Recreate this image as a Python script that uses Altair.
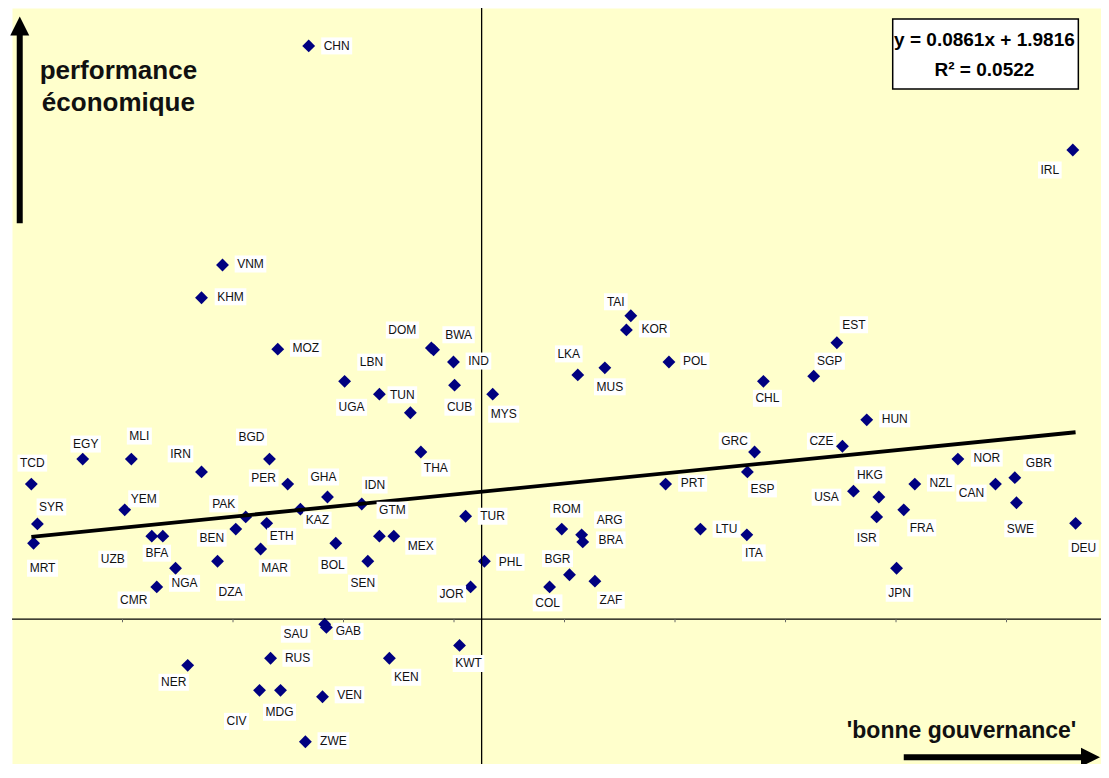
import altair as alt
import pandas as pd

# ---------------- data ----------------
codes = ["CHN", "IRL", "VNM", "KHM", "MOZ", "DOM", "BWA", "IND", "CUB", "UGA",
         "LBN", "TUN", "MYS", "THA", "TAI", "KOR", "LKA", "MUS", "POL", "CHL",
         "EST", "SGP", "HUN", "CZE", "GRC", "ESP", "PRT", "NOR", "GBR", "CAN",
         "SWE", "DEU", "HKG", "USA", "NZL", "ISR", "FRA", "LTU", "ITA", "JPN",
         "ROM", "ARG", "BRA", "TUR", "PHL", "BGR", "COL", "ZAF", "JOR", "KWT",
         "TCD", "EGY", "MLI", "IRN", "BGD", "PER", "GHA", "IDN", "SYR", "YEM",
         "PAK", "KAZ", "GTM", "MEX", "MRT", "UZB", "BFA", "BEN", "ETH", "MAR",
         "BOL", "SEN", "NGA", "DZA", "CMR", "SAU", "GAB", "NER", "RUS", "KEN",
         "CIV", "MDG", "VEN", "ZWE"]

gouvernance = [-3.13, 10.70, -4.69, -5.07, -3.69, -0.91, -0.87, -0.51, -0.49, -2.48,
               -1.85, -1.29, 0.20, -1.10, 2.70, 2.62, 1.74, 2.23, 3.39, 5.10,
               6.43, 6.01, 6.97, 6.53, 4.94, 4.81, 3.33, 8.62, 9.65, 9.30,
               9.68, 10.75, 7.19, 6.73, 7.84, 7.15, 7.64, 3.96, 4.80, 7.51,
               1.45, 1.81, 1.83, -0.29, 0.05, 1.59, 1.23, 2.05, -0.20, -0.40,
               -8.15, -7.22, -6.34, -5.07, -3.84, -3.51, -2.79, -2.17, -8.04, -6.46,
               -4.27, -3.28, -1.85, -1.59, -8.11, -5.97, -5.77, -4.45, -3.89, -4.00,
               -2.64, -2.06, -5.54, -4.78, -5.88, -2.84, -2.81, -5.32, -3.82, -1.67,
               -4.02, -3.64, -2.88, -3.19]

performance = [8.92, 7.30, 5.51, 5.00, 4.20, 4.22, 4.19, 4.00, 3.64, 3.70,
               3.50, 3.21, 3.50, 2.60, 4.72, 4.50, 3.80, 3.91, 4.00, 3.70,
               4.30, 3.78, 3.10, 2.69, 2.60, 2.29, 2.10, 2.49, 2.20, 2.10,
               1.81, 1.49, 1.90, 1.99, 2.10, 1.59, 1.70, 1.40, 1.31, 0.79,
               1.40, 1.31, 1.20, 1.60, 0.90, 0.69, 0.50, 0.59, 0.50, -0.41,
               2.10, 2.49, 2.49, 2.29, 2.49, 2.10, 1.90, 1.79, 1.48, 1.70,
               1.59, 1.71, 1.29, 1.29, 1.18, 1.29, 1.29, 1.40, 1.49, 1.09,
               1.18, 0.90, 0.79, 0.90, 0.50, -0.08, -0.13, -0.72, -0.61, -0.61,
               -1.11, -1.11, -1.21, -1.91]

# trend line shown in the chart
SLOPE = 0.0861
INTERCEPT = 1.9816
R2 = 0.0522

x_tick_values = [-6.5, -4.5, -2.5, -0.5, 1.5, 3.5, 5.5, 7.5, 9.5]
y_tick_values = [-0.5, 1.5, 3.5, 5.5, 7.5, 9.5]

# ---------------- layout / style ----------------
W, H = 1089, 756
X_DOM = [-8.5, 11.21]
Y_DOM = [-2.256, 9.51]
PX_X = W / (X_DOM[1] - X_DOM[0])   # pixels per x unit
PX_Y = H / (Y_DOM[1] - Y_DOM[0])   # pixels per y unit

NAVY = "#000080"
FONT = "Liberation Sans"

# label placement: offset of label centre from marker, in pixels (dx right, dy down)
label_offsets = {
    "CHN": (28, 0), "IRL": (-23, 20), "VNM": (28, -1), "KHM": (29, -1), "MOZ": (28, -1),
    "DOM": (-29, -18), "BWA": (25, -15), "IND": (25, -1), "CUB": (5, 22), "UGA": (7, 26),
    "LBN": (-8, -32), "TUN": (-8, -18), "MYS": (11, 20), "THA": (15, 16), "TAI": (-15, -14),
    "KOR": (28, -1), "LKA": (-9, -21), "MUS": (5, 19), "POL": (26, -1), "CHL": (4, 17),
    "EST": (17, -18), "SGP": (16, -15), "HUN": (28, -1), "CZE": (-21, -5), "GRC": (-20, -11),
    "ESP": (15, 17), "PRT": (27, -1), "NOR": (29, -1), "GBR": (24, -15), "CAN": (-24, 9),
    "SWE": (4, 26), "DEU": (8, 25), "HKG": (-9, -22), "USA": (-27, 6), "NZL": (26, -1),
    "ISR": (-10, 21), "FRA": (18, 18), "LTU": (26, 0), "ITA": (7, 18), "JPN": (3, 25),
    "ROM": (5, -20), "ARG": (28, -15), "BRA": (28, -2), "TUR": (27, 0), "PHL": (26, 1),
    "BGR": (-12, -16), "COL": (-2, 16), "ZAF": (16, 19), "JOR": (-19, 7), "KWT": (9, 18),
    "TCD": (1, -21), "EGY": (3, -15), "MLI": (8, -23), "IRN": (-21, -18), "BGD": (-18, -22),
    "PER": (-24, -6), "GHA": (-4, -20), "IDN": (13, -19), "SYR": (14, -17), "YEM": (19, -11),
    "PAK": (-22, -13), "KAZ": (17, 11), "GTM": (13, -26), "MEX": (27, 10), "MRT": (9, 25),
    "UZB": (-39, 23), "BFA": (-6, 17), "BEN": (-24, 9), "ETH": (15, 13), "MAR": (14, 19),
    "BOL": (-3, 22), "SEN": (-5, 22), "NGA": (9, 15), "DZA": (13, 31), "CMR": (-23, 13),
    "SAU": (-29, 10), "GAB": (22, 4), "NER": (-14, 17), "RUS": (27, 0), "KEN": (17, 19),
    "CIV": (-23, 31), "MDG": (-1, 22), "VEN": (27, -2), "ZWE": (28, -1),
}

# approximate Arial cap widths (em) to size the white label boxes
cap_w = {"A": .667, "B": .667, "C": .722, "D": .722, "E": .667, "F": .611, "G": .778,
         "H": .722, "I": .278, "J": .5, "K": .667, "L": .556, "M": .833, "N": .722,
         "O": .778, "P": .667, "Q": .778, "R": .722, "S": .667, "T": .611, "U": .722,
         "V": .667, "W": .944, "X": .667, "Y": .667, "Z": .611}
LABEL_SIZE = 12

df = pd.DataFrame({"code": codes, "gouvernance": gouvernance, "performance": performance})
df["dx"] = [label_offsets[c][0] for c in codes]
df["dy"] = [label_offsets[c][1] for c in codes]
df["bw"] = [sum(cap_w[ch] for ch in c) * LABEL_SIZE + 5 for c in codes]
df["lx"] = df["gouvernance"] + df["dx"] / PX_X
df["ly"] = df["performance"] - df["dy"] / PX_Y
df["bx1"] = df["lx"] - df["bw"] / 2 / PX_X
df["bx2"] = df["lx"] + df["bw"] / 2 / PX_X
df["by1"] = df["ly"] - 8.5 / PX_Y
df["by2"] = df["ly"] + 8.5 / PX_Y

xscale = alt.Scale(domain=X_DOM, nice=False, zero=False)
yscale = alt.Scale(domain=Y_DOM, nice=False, zero=False)

base = alt.Chart(df)

points = base.mark_point(shape="diamond", filled=True, size=165, color=NAVY, opacity=1).encode(
    x=alt.X("gouvernance:Q", scale=xscale,
            axis=alt.Axis(orient="top", labels=False, ticks=False, title=None, grid=False,
                          domainColor="#9a9a9a", domainWidth=1.5)),
    y=alt.Y("performance:Q", scale=yscale,
            axis=alt.Axis(values=y_tick_values, labels=False, title=None, grid=False,
                          tickSize=3, tickColor="#888888", domainColor="#9a9a9a",
                          domainWidth=1.5)),
)

boxes = base.mark_rect(color="white").encode(
    x=alt.X("bx1:Q", scale=xscale, axis=None), x2="bx2:Q",
    y=alt.Y("by1:Q", scale=yscale, axis=None), y2="by2:Q",
)

labels = base.mark_text(font=FONT, fontSize=LABEL_SIZE, color="#111111",
                        align="center", baseline="middle").encode(
    x=alt.X("lx:Q", scale=xscale, axis=None),
    y=alt.Y("ly:Q", scale=yscale, axis=None),
    text="code:N",
)

# quadrant axes through the origin
vline = alt.Chart(pd.DataFrame({"v": [0]})).mark_rule(color="black", strokeWidth=1.3).encode(
    x=alt.X("v:Q", scale=xscale, axis=None))
hline = alt.Chart(pd.DataFrame({"v": [0]})).mark_rule(color="black", strokeWidth=1.3).encode(
    y=alt.Y("v:Q", scale=yscale, axis=None))

xticks = alt.Chart(pd.DataFrame({"t": x_tick_values})).mark_rule(color="#666666", strokeWidth=1).encode(
    x=alt.X("t:Q", scale=xscale, axis=None),
    y=alt.datum(0), y2=alt.datum(-0.05),
)

# regression line y = a x + b over the range of the data
trend_df = pd.DataFrame({"gouvernance": [min(gouvernance), max(gouvernance)]})
trend = alt.Chart(trend_df).transform_calculate(
    fit=f"{SLOPE} * datum.gouvernance + {INTERCEPT}"
).mark_line(color="black", strokeWidth=3.8).encode(
    x=alt.X("gouvernance:Q", scale=xscale, axis=None),
    y=alt.Y("fit:Q", scale=yscale, axis=None),
)

# equation box
eq_box = alt.Chart(pd.DataFrame({"x1": [7.44], "x2": [10.80], "y1": [8.25], "y2": [9.34]})).mark_rect(
    fill="white", stroke="black", strokeWidth=1.5).encode(
    x=alt.X("x1:Q", scale=xscale, axis=None), x2="x2:Q",
    y=alt.Y("y1:Q", scale=yscale, axis=None), y2="y2:Q",
)
eq_text = alt.Chart(pd.DataFrame({
    "x": [9.10, 9.10], "y": [9.01, 8.54],
    "t": [f"y = {SLOPE}x + {INTERCEPT}", f"R\u00b2 = {R2}"]})).mark_text(
    font=FONT, fontSize=19, fontWeight="bold", color="black", align="center", baseline="middle"
).encode(
    x=alt.X("x:Q", scale=xscale, axis=None),
    y=alt.Y("y:Q", scale=yscale, axis=None),
    text="t:N",
)

# axis captions and arrows
caption_df = pd.DataFrame({
    "x": [-8.0, -7.96], "y": [8.40, 7.91], "t": ["performance", "économique"]})
y_caption = alt.Chart(caption_df).mark_text(
    font=FONT, fontSize=26, fontWeight="bold", color="#111111", align="left", baseline="alphabetic"
).encode(x=alt.X("x:Q", scale=xscale, axis=None), y=alt.Y("y:Q", scale=yscale, axis=None), text="t:N")

x_caption = alt.Chart(pd.DataFrame({"x": [6.61], "y": [-1.85], "t": ["'bonne gouvernance'"]})).mark_text(
    font=FONT, fontSize=23, fontWeight="bold", color="#111111", align="left", baseline="alphabetic"
).encode(x=alt.X("x:Q", scale=xscale, axis=None), y=alt.Y("y:Q", scale=yscale, axis=None), text="t:N")

v_shaft = alt.Chart(pd.DataFrame({"x": [-8.36], "y1": [6.16], "y2": [9.14]})).mark_rule(
    color="black", strokeWidth=6).encode(
    x=alt.X("x:Q", scale=xscale, axis=None),
    y=alt.Y("y1:Q", scale=yscale, axis=None), y2="y2:Q")
v_head = alt.Chart(pd.DataFrame({"x": [-8.36], "y": [9.23]})).mark_point(
    shape="M0,-1L1,1L-1,1Z", filled=True, size=361, color="black", opacity=1).encode(
    x=alt.X("x:Q", scale=xscale, axis=None), y=alt.Y("y:Q", scale=yscale, axis=None))

h_shaft = alt.Chart(pd.DataFrame({"x1": [7.64], "x2": [10.97], "y": [-2.15]})).mark_rule(
    color="black", strokeWidth=6).encode(
    x=alt.X("x1:Q", scale=xscale, axis=None), x2="x2:Q",
    y=alt.Y("y:Q", scale=yscale, axis=None))
h_head = alt.Chart(pd.DataFrame({"x": [11.02], "y": [-2.15]})).mark_point(
    shape="M1,0L-1,1L-1,-1Z", filled=True, size=361, color="black", opacity=1).encode(
    x=alt.X("x:Q", scale=xscale, axis=None), y=alt.Y("y:Q", scale=yscale, axis=None))

chart = alt.layer(
    points, vline, hline, xticks, trend, boxes, labels,
    eq_box, eq_text, y_caption, x_caption, v_shaft, v_head, h_shaft, h_head,
).properties(
    width=W, height=H,
    autosize=alt.AutoSizeParams(type="none"),
    padding={"left": 4, "top": 0, "right": 0, "bottom": 0},
    background="white",
).configure_view(
    fill="#FFFFCC", strokeOpacity=0,
)

chart.save("out.html", embed_options={"renderer": "svg", "actions": False})
